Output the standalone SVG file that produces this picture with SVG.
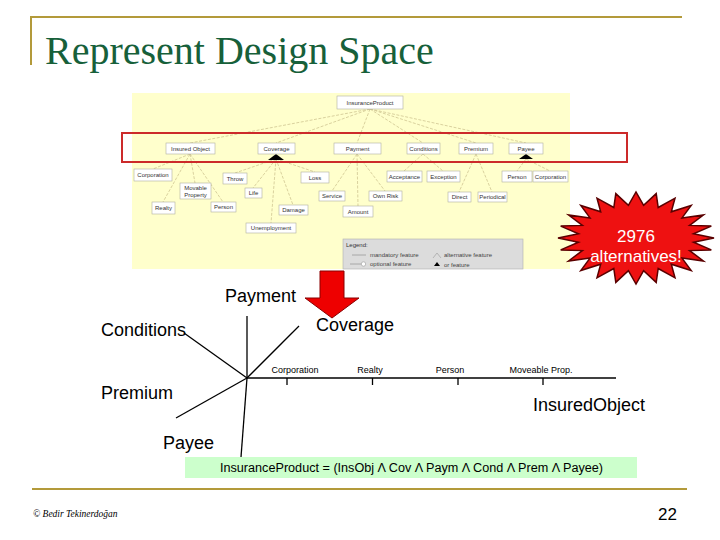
<svg xmlns="http://www.w3.org/2000/svg" width="720" height="540" viewBox="0 0 720 540">
<defs>
<style>
.fb{fill:#ffffff;stroke:#b0b0a0;stroke-width:0.6}
.ft{font-family:"Liberation Sans",Arial,sans-serif;font-size:6px;fill:#333;text-anchor:middle}
.fe{stroke:#c9bd8a;stroke-width:0.7;fill:none;stroke-dasharray:3,1.5}
.ax{stroke:#000;stroke-width:1.3;fill:none}
.al{font-family:"Liberation Sans",Arial,sans-serif;font-size:18px;fill:#000}
.tl{font-family:"Liberation Sans",Arial,sans-serif;font-size:9px;fill:#000;text-anchor:middle}
.gold{stroke:#b39a3a;stroke-width:2;fill:none}
</style>
</defs>
<rect width="720" height="540" fill="#ffffff"/>
<g id="frame">
<line class="gold" x1="30" y1="17" x2="682" y2="17"/>
<line class="gold" x1="31" y1="16" x2="31" y2="65"/>
<line class="gold" x1="32" y1="489" x2="687" y2="489"/>
</g>
<text id="title" x="45" y="64" font-family="'Liberation Serif','Times New Roman',serif" font-size="40" fill="#17603a">Represent Design Space</text>
<rect x="132" y="93" width="438" height="176" fill="#ffffcc"/>
<g id="connectors">
<line class="fe" x1="370" y1="109" x2="190" y2="143"/>
<line class="fe" x1="370" y1="109" x2="276" y2="143"/>
<line class="fe" x1="370" y1="109" x2="357" y2="143"/>
<line class="fe" x1="370" y1="109" x2="423" y2="143"/>
<line class="fe" x1="370" y1="109" x2="476" y2="143"/>
<line class="fe" x1="370" y1="109" x2="526" y2="143"/>
<line class="fe" x1="190" y1="154" x2="153" y2="169"/>
<line class="fe" x1="190" y1="154" x2="195" y2="183"/>
<line class="fe" x1="190" y1="154" x2="163" y2="202"/>
<line class="fe" x1="190" y1="154" x2="223" y2="202"/>
<line class="fe" x1="276" y1="159" x2="235" y2="173"/>
<line class="fe" x1="276" y1="159" x2="253" y2="188"/>
<line class="fe" x1="276" y1="159" x2="315" y2="172"/>
<line class="fe" x1="276" y1="159" x2="293" y2="205"/>
<line class="fe" x1="276" y1="159" x2="271" y2="223"/>
<line class="fe" x1="357" y1="154" x2="332" y2="191"/>
<line class="fe" x1="357" y1="154" x2="385" y2="191"/>
<line class="fe" x1="357" y1="154" x2="358" y2="206" stroke-dasharray="none"/>
<line class="fe" x1="423" y1="154" x2="404" y2="171"/>
<line class="fe" x1="423" y1="154" x2="443" y2="171"/>
<line class="fe" x1="476" y1="154" x2="459" y2="192"/>
<line class="fe" x1="476" y1="154" x2="492" y2="192"/>
<line class="fe" x1="526" y1="159" x2="517" y2="171"/>
<line class="fe" x1="526" y1="159" x2="550" y2="171"/>
<polygon points="276,154 268,160 284,160" fill="#000"/>
<polygon points="526,154 519,159 533,159" fill="#000"/>
</g>
<g id="n-insuranceproduct"><rect class="fb" x="337" y="96" width="66" height="13"/><text class="ft" x="370" y="105">InsuranceProduct</text></g>
<g id="n-insuredobject"><rect class="fb" x="166" y="143" width="49" height="11"/><text class="ft" x="190.5" y="150.5">Insured Object</text></g>
<g id="n-coverage"><rect class="fb" x="258" y="143" width="37" height="11"/><text class="ft" x="276.5" y="150.5">Coverage</text></g>
<g id="n-payment"><rect class="fb" x="334" y="143" width="47" height="11"/><text class="ft" x="357.5" y="150.5">Payment</text></g>
<g id="n-conditions"><rect class="fb" x="407" y="143" width="33" height="11"/><text class="ft" x="423.5" y="150.5">Conditions</text></g>
<g id="n-premium"><rect class="fb" x="459" y="143" width="34" height="11"/><text class="ft" x="476" y="150.5">Premium</text></g>
<g id="n-payee"><rect class="fb" x="509" y="143" width="34" height="11"/><text class="ft" x="526" y="150.5">Payee</text></g>
<g id="n-corporation1"><rect class="fb" x="134" y="169" width="38" height="12"/><text class="ft" x="153" y="177">Corporation</text></g>
<g id="n-throw"><rect class="fb" x="223" y="173" width="24" height="11"/><text class="ft" x="235" y="180.5">Throw</text></g>
<g id="n-loss"><rect class="fb" x="301" y="172" width="28" height="11"/><text class="ft" x="315" y="179.5">Loss</text></g>
<g id="n-acceptance"><rect class="fb" x="387" y="171" width="35" height="11"/><text class="ft" x="404.5" y="178.5">Acceptance</text></g>
<g id="n-exception"><rect class="fb" x="427" y="171" width="33" height="11"/><text class="ft" x="443.5" y="178.5">Exception</text></g>
<g id="n-person2"><rect class="fb" x="502" y="171" width="30" height="11"/><text class="ft" x="517" y="178.5">Person</text></g>
<g id="n-corporation2"><rect class="fb" x="533" y="171" width="35" height="11"/><text class="ft" x="550.5" y="178.5">Corporation</text></g>
<g id="n-movableproperty"><rect class="fb" x="180" y="183" width="31" height="16"/><text class="ft" x="195.5" y="190">Movable</text><text class="ft" x="195.5" y="197">Property</text></g>
<g id="n-life"><rect class="fb" x="245" y="188" width="17" height="10"/><text class="ft" x="253.5" y="195">Life</text></g>
<g id="n-service"><rect class="fb" x="319" y="191" width="26" height="10"/><text class="ft" x="332" y="198">Service</text></g>
<g id="n-ownrisk"><rect class="fb" x="369" y="191" width="33" height="10"/><text class="ft" x="385.5" y="198">Own Risk</text></g>
<g id="n-direct"><rect class="fb" x="448" y="192" width="23" height="10"/><text class="ft" x="459.5" y="199">Direct</text></g>
<g id="n-periodical"><rect class="fb" x="478" y="192" width="29" height="10"/><text class="ft" x="492.5" y="199">Periodical</text></g>
<g id="n-realty"><rect class="fb" x="152" y="202" width="23" height="12"/><text class="ft" x="163.5" y="210">Realty</text></g>
<g id="n-person1"><rect class="fb" x="211" y="202" width="25" height="10"/><text class="ft" x="223.5" y="209">Person</text></g>
<g id="n-damage"><rect class="fb" x="279" y="205" width="29" height="10"/><text class="ft" x="293.5" y="212">Damage</text></g>
<g id="n-amount"><rect class="fb" x="343" y="206" width="30" height="11"/><text class="ft" x="358" y="213.5">Amount</text></g>
<g id="n-unemployment"><rect class="fb" x="246" y="223" width="50" height="10"/><text class="ft" x="271" y="230">Unemployment</text></g>
<g id="legend">
<rect x="343" y="239" width="180" height="30" fill="#dcdcdc" stroke="#b0b0b0" stroke-width="0.6"/>
<text x="346" y="247" font-family="'Liberation Sans',Arial,sans-serif" font-size="6" fill="#333">Legend:</text>
<line x1="352" y1="255" x2="366" y2="255" stroke="#999" stroke-width="0.8"/>
<text x="370" y="257" font-family="'Liberation Sans',Arial,sans-serif" font-size="6" fill="#444">mandatory feature</text>
<line x1="350" y1="264" x2="361" y2="264" stroke="#999" stroke-width="0.8"/>
<circle cx="363.5" cy="264" r="2.2" fill="#fff" stroke="#999" stroke-width="0.6"/>
<text x="370" y="266" font-family="'Liberation Sans',Arial,sans-serif" font-size="6" fill="#444">optional feature</text>
<polyline points="433,258 437,253 441,258" fill="none" stroke="#999" stroke-width="0.6"/>
<text x="444" y="257" font-family="'Liberation Sans',Arial,sans-serif" font-size="6" fill="#444">alternative feature</text>
<polygon points="437,262 434,266 440,266" fill="#000"/>
<text x="444" y="267" font-family="'Liberation Sans',Arial,sans-serif" font-size="6" fill="#444">or feature</text>
</g>
<rect id="highlight" x="122" y="133" width="505" height="29" fill="none" stroke="#cc2a2a" stroke-width="2"/>
<g id="burst">
<polygon points="714,238 693.5,242.3 711.3,249.9 689.6,250.6 703.5,261 682,258.1 691.2,270.5 671.3,264.2 675,277.8 658.2,268.5 656.2,282.4 643.6,270.7 636,284 628.4,270.7 615.8,282.4 613.8,268.5 597,277.8 600.7,264.2 580.8,270.5 590,258.1 568.5,261 582.4,250.6 560.7,249.9 578.5,242.3 558,238 578.5,233.7 560.7,226.1 582.4,225.4 568.5,215 590,217.9 580.8,205.5 600.7,211.8 597,198.2 613.8,207.5 615.8,193.6 628.4,205.3 636,192 643.6,205.3 656.2,193.6 658.2,207.5 675,198.2 671.3,211.8 691.2,205.5 682,217.9 703.5,215 689.6,225.4 711.3,226.1 693.5,233.7" fill="#ee1111" stroke="#5a0000" stroke-width="1.5" stroke-linejoin="miter"/>
<text x="636" y="242" font-family="'Liberation Sans',Arial,sans-serif" font-size="17" fill="#ffffff" text-anchor="middle">2976</text>
<text x="636" y="262" font-family="'Liberation Sans',Arial,sans-serif" font-size="17" fill="#ffffff" text-anchor="middle">alternatives!</text>
</g>
<polygon id="arrow" points="320,271 344,271 344,298 359,298 332,318 305,298 320,298" fill="#ee0000" stroke="#8a0000" stroke-width="1"/>
<g id="axes">
<line class="ax" x1="247" y1="378" x2="247" y2="316"/>
<line class="ax" x1="247" y1="378" x2="299" y2="326"/>
<line class="ax" x1="247" y1="378" x2="184" y2="333"/>
<line class="ax" x1="247" y1="378" x2="176" y2="418"/>
<line class="ax" x1="247" y1="378" x2="241" y2="457"/>
<line class="ax" x1="247" y1="378" x2="616" y2="378"/>
<line class="ax" x1="287" y1="378" x2="287" y2="385"/>
<line class="ax" x1="372.5" y1="378" x2="372.5" y2="385"/>
<line class="ax" x1="458" y1="378" x2="458" y2="385"/>
<line class="ax" x1="543" y1="378" x2="543" y2="385"/>
</g>
<g id="axis-labels">
<text class="al" x="225" y="302">Payment</text>
<text class="al" x="101" y="336">Conditions</text>
<text class="al" x="316" y="331">Coverage</text>
<text class="al" x="101" y="399">Premium</text>
<text class="al" x="533" y="411">InsuredObject</text>
<text class="al" x="163" y="449">Payee</text>
<text class="tl" x="295" y="373">Corporation</text>
<text class="tl" x="370" y="373">Realty</text>
<text class="tl" x="450" y="373">Person</text>
<text class="tl" x="541" y="373">Moveable Prop.</text>
</g>
<g id="formula">
<rect x="185" y="457" width="452" height="21" fill="#ccffcc"/>
<text x="220" y="472" textLength="383" lengthAdjust="spacingAndGlyphs" font-family="'Liberation Sans',Arial,sans-serif" font-size="12.5" fill="#000">InsuranceProduct = (InsObj Λ Cov Λ Paym Λ Cond Λ Prem Λ Payee)</text>
</g>
<text id="footer" x="33" y="517" font-family="'Liberation Serif','Times New Roman',serif" font-style="italic" font-size="9.5" fill="#000">© Bedir Tekinerdoğan</text>
<text id="page" x="677" y="520" font-family="'Liberation Sans',Arial,sans-serif" font-size="17" fill="#000" text-anchor="end">22</text>
</svg>
